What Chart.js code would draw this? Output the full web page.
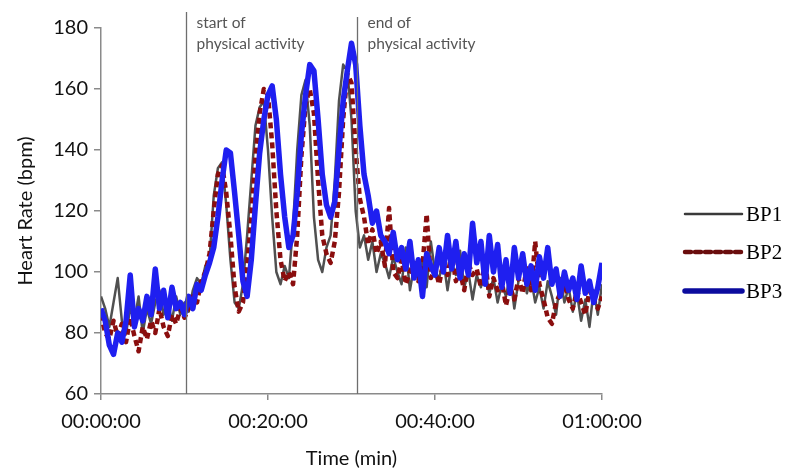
<!DOCTYPE html>
<html>
<head>
<meta charset="utf-8">
<script src="https://cdn.jsdelivr.net/npm/chart.js@4.4.1/dist/chart.umd.min.js"></script>
<style>
  html, body { margin: 0; padding: 0; background: #fff; }
  #wrap { width: 791px; height: 470px; }
</style>
</head>
<body>
<div id="wrap"><canvas id="graficoFC"></canvas></div>
<script>
// one sample every half minute, 0 .. 60 min
const passoMin = 0.5;

const bp1 = [
  92, 88, 82, 90, 98, 84, 80, 88, 84, 92, 80, 88, 83, 90, 94, 86, 90, 84, 92, 86,
  90, 87, 94, 98, 96, 102, 104, 125, 134, 136, 122, 104, 90, 88, 96, 112, 130, 148, 154, 156,
  140, 118, 100, 96, 102, 98, 115, 140, 158, 163, 148, 118, 104, 100, 108, 112, 130, 156, 168, 166,
  150, 120, 108, 112, 104, 110, 100, 106, 103, 98, 105, 100, 96, 108, 94, 102, 98, 104, 95, 110,
  100, 98, 104, 94, 103, 99, 107, 95, 100, 91, 99, 95, 101, 93, 98, 90, 96, 92, 99, 88,
  97, 104, 93, 98, 90, 95, 88, 97, 92, 86, 98, 90, 95, 87, 93, 84, 91, 82, 94, 86,
  96
];

const bp2 = [
  86, 80, 78, 84, 79, 83, 77, 85, 79, 74, 82, 78, 84, 80, 88, 82, 79, 86, 83, 88,
  85, 88, 92, 90, 97, 100, 106, 120, 132, 135, 126, 112, 95, 87, 90, 102, 118, 138, 152, 160,
  158, 142, 120, 104, 97, 100, 96, 112, 138, 155, 160, 152, 130, 112, 106, 103, 110, 126, 150, 165,
  162, 140, 124, 118, 109, 114, 106, 110, 102, 121, 100, 98, 104, 96, 100, 103, 97, 102, 119, 98,
  101, 96, 103, 99, 106, 97, 100, 94, 103, 99, 101, 95, 104, 92, 98, 94, 97, 89, 95, 91,
  98, 93, 102, 94, 110, 96, 91, 85, 83, 90, 93, 96, 91, 88, 94, 90, 86, 94, 91, 88,
  92
];

const bp3 = [
  88, 84, 76, 73, 80, 77, 84, 99, 82, 88, 84, 92, 86, 101, 88, 94, 85, 95, 88, 90,
  86, 92, 88, 96, 94, 99, 103, 108, 118, 130, 140, 139, 126, 112, 97, 92, 104, 122, 139, 150,
  158, 161, 150, 132, 118, 108, 112, 126, 145, 158, 168, 166, 150, 132, 122, 118, 123, 140, 156, 166,
  175, 168, 148, 132, 125, 116, 120, 112, 110, 106, 113, 104, 108, 101, 110, 98, 104, 92, 106, 102,
  99, 108, 100, 112, 101, 110, 98, 106, 99, 116, 103, 110, 96, 112, 100, 109, 95, 104, 93, 108,
  98, 106, 96, 102, 94, 105, 98, 108, 96, 101, 92, 100, 94, 98, 91, 102, 93, 97, 90, 95,
  103
];

const nomesSeries = ['BP1', 'BP2', 'BP3'];
const marcasTempo = [10.2, 30.7];
const textosMarcas = [['start of', 'physical activity'], ['end of', 'physical activity']];

function pontos(valores) {
  return valores.map((v, i) => ({ x: i * passoMin, y: v }));
}

function formatarTempo(min) {
  const h = Math.floor(min / 60);
  const m = Math.round(min % 60);
  return String(h).padStart(2, '0') + ':' + String(m).padStart(2, '0') + ':00';
}

// vertical lines + their notes, and the legend on the right
const extras = {
  id: 'extras',
  afterDatasetsDraw(chart) {
    const ctx = chart.ctx;
    const x = chart.scales.x;
    const y = chart.scales.y;
    ctx.save();
    marcasTempo.forEach((t, i) => {
      const px = Math.round(x.getPixelForValue(t)) + 0.5;
      ctx.strokeStyle = '#6e6e6e';
      ctx.lineWidth = 1.3;
      ctx.beginPath();
      ctx.moveTo(px, i === 0 ? 12 : 17);
      ctx.lineTo(px, y.bottom);
      ctx.stroke();
      ctx.fillStyle = '#555';
      ctx.font = '15.5px Lato';
      ctx.textBaseline = 'alphabetic';
      ctx.fillText(textosMarcas[i][0], px + 10, 28);
      ctx.fillText(textosMarcas[i][1], px + 10, 49);
    });

    const legendaY = [214, 252, 291];
    chart.data.datasets.forEach((ds, i) => {
      const ly = legendaY[i];
      ctx.strokeStyle = ds.legendColor;
      ctx.lineWidth = ds.borderWidth;
      ctx.setLineDash(ds.borderDash || []);
      ctx.lineCap = 'round';
      ctx.beginPath();
      ctx.moveTo(685, ly);
      ctx.lineTo(742, ly);
      ctx.stroke();
      ctx.setLineDash([]);
      ctx.fillStyle = '#000';
      ctx.font = '21px "Liberation Serif"';
      ctx.textBaseline = 'middle';
      ctx.fillText(nomesSeries[i], 746, ly + 1);
    });
    ctx.restore();
  }
};

const ctx = document.getElementById('graficoFC').getContext('2d');
new Chart(ctx, {
  type: 'line',
  data: {
    datasets: [
      {
        label: nomesSeries[0],
        data: pontos(bp1),
        borderColor: '#505050',
        legendColor: '#3a3a3a',
        borderWidth: 2.5,
        order: 3
      },
      {
        label: nomesSeries[1],
        data: pontos(bp2),
        borderColor: '#8a0e0e',
        legendColor: '#6a0d0d',
        borderWidth: 4.5,
        borderDash: [6, 4],
        order: 2
      },
      {
        label: nomesSeries[2],
        data: pontos(bp3),
        borderColor: '#1f1ff0',
        legendColor: '#0b0b9e',
        borderWidth: 5.5,
        order: 1
      }
    ]
  },
  options: {
    responsive: true,
    maintainAspectRatio: false,
    animation: false,
    layout: { padding: { top: 28, right: 189, left: 0, bottom: 0 } },
    elements: {
      point: { radius: 0 },
      line: { tension: 0, borderJoinStyle: 'round' }
    },
    plugins: {
      legend: { display: false },
      tooltip: { enabled: false }
    },
    scales: {
      x: {
        type: 'linear',
        min: 0,
        max: 60,
        afterFit: (s) => { s.height = 76; },
        ticks: {
          stepSize: 20,
          padding: 10,
          color: '#111',
          font: { family: 'Lato', size: 20 },
          maxRotation: 0,
          callback: (v) => formatarTempo(v)
        },
        grid: { drawOnChartArea: false, tickLength: 6, color: '#8a8a8a', lineWidth: 1.5 },
        border: { color: '#8a8a8a', width: 1.5 },
        title: {
          display: true,
          text: 'Time (min)',
          color: '#111',
          font: { family: 'Lato', size: 20 },
          padding: { top: 0, bottom: -1 }
        }
      },
      y: {
        min: 60,
        max: 180,
        afterFit: (s) => { s.width = 101; },
        ticks: {
          stepSize: 20,
          padding: 6,
          color: '#111',
          font: { family: 'Lato', size: 20 }
        },
        grid: { drawOnChartArea: false, tickLength: 7, color: '#8a8a8a', lineWidth: 1.5 },
        border: { color: '#8a8a8a', width: 1.5 },
        title: {
          display: true,
          text: 'Heart Rate (bpm)',
          color: '#111',
          font: { family: 'Lato', size: 20 },
          padding: { top: 14, bottom: 0 }
        }
      }
    }
  },
  plugins: [extras]
});
</script>
</body>
</html>
